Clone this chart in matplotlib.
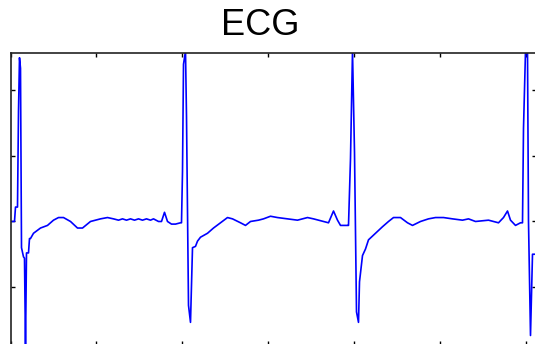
import matplotlib
matplotlib.use("Agg")
import matplotlib.pyplot as plt
import numpy as np

# ECG trace, sampled at fs Hz: sample index and amplitude in mV
fs = 172.0

idx = [
    # beat 1
    0, 4, 5, 7, 8, 9, 10, 11, 13, 14, 15, 16, 18, 19, 20, 23, 30, 37, 43, 48,
    53, 60, 67, 72, 80, 90, 97, 103, 108, 112, 116, 120, 124, 128, 132, 136,
    140, 143, 148, 151, 154, 157, 161, 165, 170,
    # beat 2
    171, 172, 173, 175, 176, 178, 180, 182, 185, 187, 190, 197, 203, 210, 217,
    222, 230, 235, 240, 248, 253, 260, 267, 277, 287, 297, 303, 313, 318, 323,
    327, 330, 337,
    # beat 3
    338, 340, 342, 344, 346, 348, 349, 352, 355, 358, 365, 372, 378, 383, 390,
    397, 402, 410, 418, 425, 433, 442, 452, 458, 465, 478, 488, 493, 497, 500,
    505, 510,
    # beat 4
    512, 513, 515, 517, 518, 520, 522, 524,
]

ecg_mv = [
    # beat 1
    0.00, 0.00, 0.11, 0.11, 0.84, 1.25, 1.17, -0.20, -0.27, -0.28, -0.95, -0.24,
    -0.24, -0.13, -0.13, -0.09, -0.05, -0.03, 0.01, 0.03,
    0.03, 0.00, -0.05, -0.05, 0.00, 0.02, 0.03, 0.02, 0.01, 0.02, 0.01, 0.02,
    0.01, 0.02, 0.01, 0.02,
    0.01, 0.02, 0.00, 0.00, 0.07, 0.00, -0.02, -0.02, -0.01,
    # beat 2
    -0.01, 0.38, 1.20, 1.30, 0.80, -0.64, -0.77, -0.20, -0.19, -0.15, -0.12,
    -0.09, -0.05, -0.01, 0.03,
    0.02, -0.01, -0.03, 0.00, 0.01, 0.02, 0.04, 0.03, 0.02, 0.01, 0.03, 0.02,
    0.00, -0.01, 0.08,
    0.01, -0.03, -0.03,
    # beat 3
    -0.03, 0.48, 1.30, 0.53, -0.69, -0.77, -0.46, -0.26, -0.21, -0.14, -0.09,
    -0.04, 0.00, 0.03, 0.03,
    -0.01, -0.03, 0.00, 0.02, 0.03, 0.03, 0.02, 0.01, 0.02, 0.00, 0.01, -0.01,
    0.03, 0.08, 0.01,
    -0.03, -0.01,
    # beat 4
    -0.01, 0.71, 1.30, 1.30, 0.00, -0.87, -0.25, -0.25,
]

t = np.array(idx) / fs

fig = plt.figure(figsize=(5.35, 3.44), dpi=100)
ax = fig.add_axes([10.5 / 535, -0.5 / 344, 525 / 535, 291.5 / 344])

ax.plot(t, ecg_mv, color="#0000ff", linewidth=1.2)

ax.set_xlim(0, 525 / fs)
ax.set_ylim(-0.939, 1.286)
ax.set_xticks(np.arange(0, 3.01, 0.5))
ax.set_yticks([-0.5, 0.0, 0.5, 1.0])
ax.tick_params(direction="in", length=2.9, width=1.0, top=True, right=True,
               labelbottom=False, labelleft=False)
for s in ax.spines.values():
    s.set_linewidth(1.2)
    s.set_color("#222222")

ax.set_title("ECG", family="Liberation Sans", fontsize=26, x=0.475, pad=13)

fig.savefig("out.png", dpi=100)
